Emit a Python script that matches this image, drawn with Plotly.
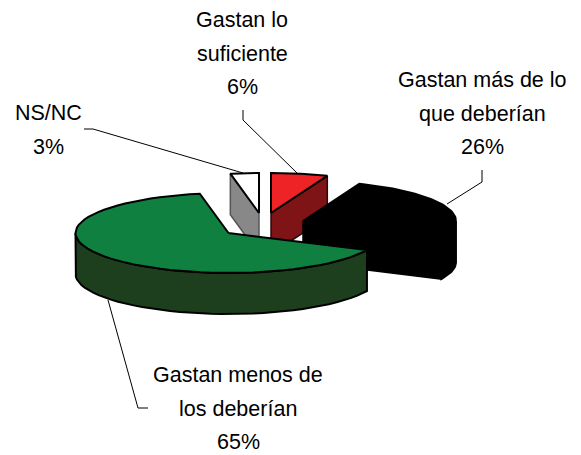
import numpy as np
import plotly.graph_objects as go

# Data
categories = ["Gastan lo suficiente", "Gastan más de lo que deberían",
              "Gastan menos de los deberían", "NS/NC"]
values = [6, 26, 65, 3]
label_lines = [["Gastan lo", "suficiente"], ["Gastan más de lo", "que deberían"],
               ["Gastan menos de", "los deberían"], ["NS/NC"]]

# Style
top_colors = ["#EE2326", "#000000", "#0F8040", "#FFFFFF"]
side_colors = ["#7F1416", "#000000", "#1E3F1E", "#888888"]
edge_side = ["#2a0a0a", "#000000", "#000000", "#555555"]

# Geometry of the projected pie (pixels)
CX, CY, RX, RY, DEPTH = 228.5, 233.0, 153.0, 40.0, 41.0
explode = [(42.5, -20), (74.5, -12), (0, 0), (30.5, -20)]
label_pos = [(242, 20), (482, 80), (238, 375), (48, 113)]
LINE_GAP = 33.7
FONT = 21.5
leaders = [
    [(243, 110), (243, 120), (297, 173)],
    [(482, 170), (482, 182), (447, 204)],
    [(148, 408), (138, 408), (108, 300)],
    [(84, 129), (93, 129), (243, 173)],
]

fig = go.Figure()


def poly(xs, ys, fill, line, width, name):
    fig.add_trace(go.Scatter(x=np.append(xs, xs[0]), y=np.append(ys, ys[0]), mode="lines",
                             fill="toself", fillcolor=fill,
                             line=dict(color=line, width=width), name=name,
                             hoverinfo="name", showlegend=False))


total = sum(values)
start = 90.0
wedges = []
for v in values:
    sweep = v / total * 360.0
    wedges.append((start, start - sweep))
    start -= sweep

for i in [3, 0, 1, 2]:
    t1, t2 = np.radians(wedges[i])
    dx, dy = explode[i]
    ax, ay = CX + dx, CY + dy
    th = np.linspace(t1, t2, 60)
    rimx = ax + RX * np.cos(th)
    rimy = ay - RY * np.sin(th)
    name = categories[i]
    # radial walls that face the viewer
    for t, visible in ((t2, np.cos(t2) > 1e-6), (t1, np.cos(t1) < -1e-6)):
        if visible:
            ex, ey = ax + RX * np.cos(t), ay - RY * np.sin(t)
            poly(np.array([ax, ex, ex, ax]), np.array([ay, ey, ey + DEPTH, ay + DEPTH]),
                 side_colors[i], edge_side[i], 1.5, name)
    # outer wall
    front = np.sin(th) <= 0
    if front.sum() > 1:
        fx, fy = rimx[front], rimy[front]
        poly(np.concatenate([fx, fx[::-1]]), np.concatenate([fy, fy[::-1] + DEPTH]),
             side_colors[i], "#000000", 2, name)
    # top face
    poly(np.concatenate([[ax], rimx]), np.concatenate([[ay], rimy]),
         top_colors[i], "#000000", 2, name)

for pts in leaders:
    fig.add_trace(go.Scatter(x=[p[0] for p in pts], y=[p[1] for p in pts], mode="lines",
                             line=dict(color="#000000", width=1), hoverinfo="skip",
                             showlegend=False))

annotations = []
for lines, (x, y), v in zip(label_lines, label_pos, values):
    for k, text in enumerate(lines + [f"{v}%"]):
        annotations.append(dict(x=x, y=y + k * LINE_GAP, text=text, showarrow=False,
                                xanchor="center", yanchor="middle",
                                font=dict(family="Liberation Sans, Arial, sans-serif",
                                          size=FONT, color="#000000")))

fig.update_layout(
    width=581, height=455, margin=dict(l=0, r=0, t=0, b=0),
    paper_bgcolor="#FFFFFF", plot_bgcolor="#FFFFFF", showlegend=False,
    annotations=annotations,
    xaxis=dict(range=[0, 581], visible=False, fixedrange=True),
    yaxis=dict(range=[455, 0], visible=False, fixedrange=True),
)

fig.write_html("out.html", config={"displayModeBar": False},
               post_script="document.body.style.margin='0';document.body.style.overflow='hidden';")
